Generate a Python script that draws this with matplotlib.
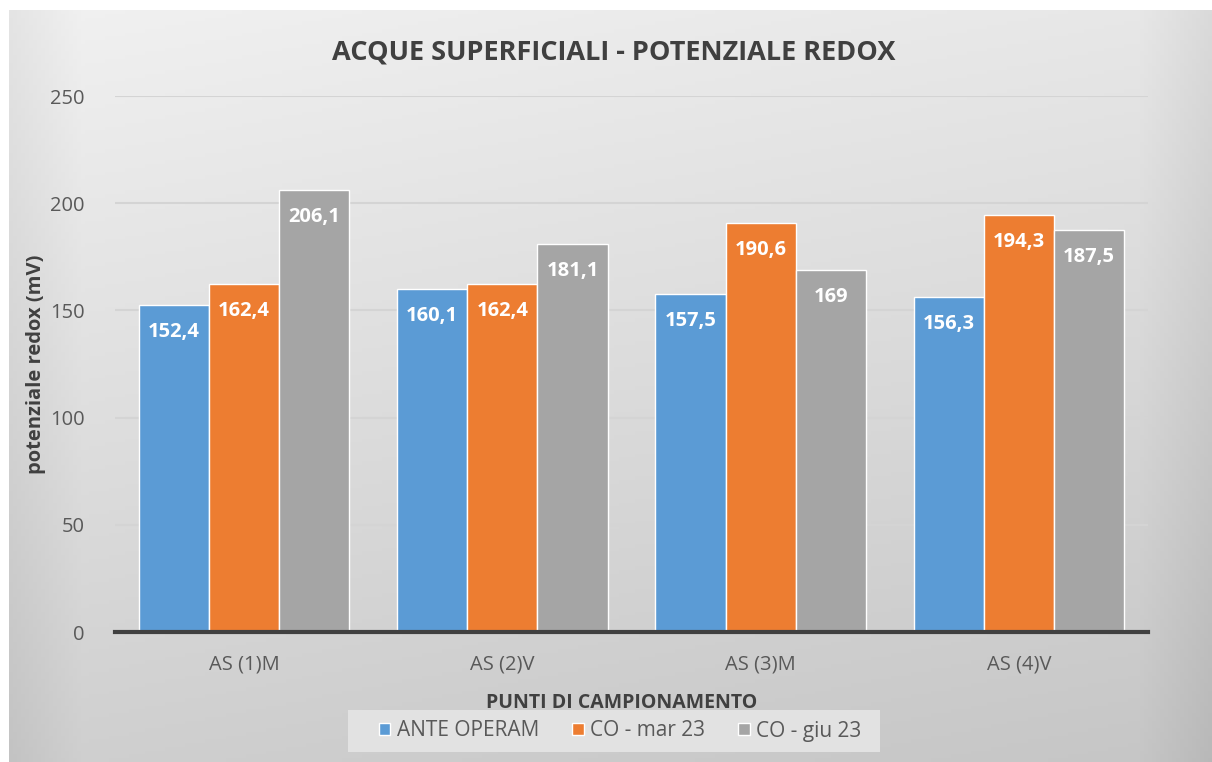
import numpy as np
import matplotlib.pyplot as plt
from matplotlib.patches import Rectangle

categories = ['AS (1)M', 'AS (2)V', 'AS (3)M', 'AS (4)V']
series_names = ['ANTE OPERAM', 'CO - mar 23', 'CO - giu 23']
ante_operam = [152.4, 160.1, 157.5, 156.3]
co_mar23 = [162.4, 162.4, 190.6, 194.3]
co_giu23 = [206.1, 181.1, 169, 187.5]
y_ticks = [0, 50, 100, 150, 200, 250]

colors = ['#5b9bd5', '#ed7d31', '#a5a5a5']
text_dark = '#404040'
text_mid = '#595959'

plt.rcParams['font.family'] = ['Open Sans', 'DejaVu Sans']

fig = plt.figure(figsize=(12.12, 7.62), dpi=100)
fig.patch.set_facecolor('white')

# gradient background of the chart frame
bg = fig.add_axes([9 / 1212, 0, 1 - 9 / 1212, 1 - 10 / 762], zorder=-10)
yy, xx = np.mgrid[0:1:200j, 0:1:300j]
shade = 0.945 - 0.13 * yy - 0.04 * xx
edge = np.minimum(xx, 1 - xx)
shade = shade - 0.05 * np.clip(1 - edge / 0.06, 0, 1)
bg.imshow(np.dstack([shade] * 3), aspect='auto', extent=[0, 1, 0, 1], origin='upper')
bg.set_axis_off()

ax = fig.add_axes([115 / 1212, 1 - 632 / 762, (1148 - 115) / 1212, (632 - 96) / 762])
ax.set_facecolor('none')

x = np.arange(len(categories))
w = 0.272
series = [ante_operam, co_mar23, co_giu23]
for i, (vals, name) in enumerate(zip(series, series_names)):
    bars = ax.bar(x + (i - 1) * w, vals, w, color=colors[i], edgecolor='white',
                  linewidth=1.0, label=name, zorder=3)
    for b, v in zip(bars, vals):
        lbl = ('%g' % v).replace('.', ',')
        ax.annotate(lbl, (b.get_x() + b.get_width() / 2, v), xytext=(0, -27),
                    textcoords='offset pixels', ha='center', va='center',
                    color='white', fontsize=14.5, fontweight='bold', zorder=4)

ax.set_xlim(-0.5, 3.5)
ax.set_ylim(0, 250)
ax.set_yticks(y_ticks)
ax.set_xticks(x)
ax.set_xticklabels(categories)
ax.grid(axis='y', color='#d4d4d4', linewidth=1.5, zorder=0)
ax.tick_params(axis='both', length=0, labelsize=14.5, labelcolor=text_mid)
ax.tick_params(axis='y', pad=22)
ax.tick_params(axis='x', pad=16)
for s in ['top', 'right', 'left']:
    ax.spines[s].set_visible(False)
ax.spines['bottom'].set_color(text_dark)
ax.spines['bottom'].set_linewidth(3)
ax.spines['bottom'].set_zorder(5)

fig.text(614 / 1212, 1 - 52 / 762, 'ACQUE SUPERFICIALI - POTENZIALE REDOX',
         ha='center', va='center', fontsize=19.5, fontweight='bold', color=text_dark)
fig.text(36 / 1212, 1 - 364 / 762, 'potenziale redox (mV)', rotation=90,
         ha='center', va='center', fontsize=14.5, fontweight='bold', color=text_dark)
fig.text(622 / 1212, 1 - 703 / 762, 'PUNTI DI CAMPIONAMENTO',
         ha='center', va='center', fontsize=14, fontweight='bold', color=text_dark)

# legend band
fig.patches.append(Rectangle((348 / 1212, 1 - 752 / 762), (880 - 348) / 1212, 42 / 762,
                             transform=fig.transFigure, facecolor='#e2e2e2',
                             edgecolor='none', zorder=-5))
handles, labels = ax.get_legend_handles_labels()
leg = fig.legend(handles, labels, loc='center', bbox_to_anchor=(620 / 1212, 1 - 731 / 762),
                 ncol=3, frameon=False, fontsize=15, handlelength=0.55, handleheight=0.55,
                 handletextpad=0.3, columnspacing=1.6, labelcolor=text_mid)

fig.savefig('out.png', dpi=100)
